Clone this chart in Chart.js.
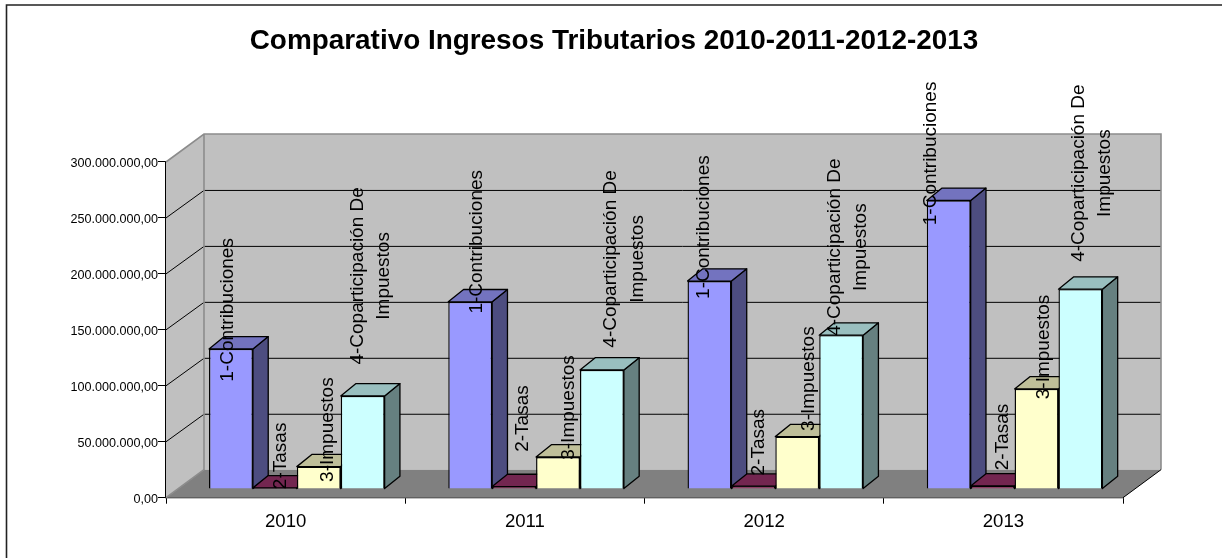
<!DOCTYPE html>
<html><head><meta charset="utf-8">
<style>html,body{margin:0;padding:0;background:#fff;overflow:hidden}canvas{display:block}</style>
<script src="https://cdn.jsdelivr.net/npm/chart.js@4"></script>
</head><body><canvas id="c" width="1222" height="558"></canvas>
<script>
const years = ['2010','2011','2012','2013'];
const seriesNames = ['1-Contribuciones','2-Tasas','3-Impuestos','4-Coparticipación De Impuestos'];
const contribuciones = [125200000,167300000,185800000,257900000];
const tasas = [1000000,2200000,2500000,2700000];
const impuestos = [20000000,28600000,46800000,89400000];
const coparticipacion = [83200000,106400000,137500000,178600000];

const FRONT=['#9999FF','#993366','#FFFFCC','#CCFFFF'];
const TOPF=['#7373BF','#732650','#BFBF99','#99BFBF'];
const SIDE=['#4D4D80','#4D1A33','#808066','#668080'];
const WALL={dx:38,dy:-28};
const BAR_PLANE={dx:11.2,dy:-8.7};
const BAR_DEPTH={dx:15.3,dy:-12.3};
const LABEL_FONT='19px "Liberation Sans", Arial, sans-serif';
const labelLines=[['1-Contribuciones'],['2-Tasas'],['3-Impuestos'],['4-Coparticipación De','Impuestos']];
// label placement relative to bar [dx from bar centre, dy from bar top], per series then year
const labelNudge=[
 [[-3,-39],[6.7,-60],[-6,-54],[-18,-47]],
 [[6,-32],[8.4,-68],[5,-44],[9.7,-49]],
 [[8.7,-37],[11,-49.5],[11,-58],[7,-42]],
 [[8,-120],[22.5,-111],[6.4,-88],[11.5,-116]]
];

function poly(ctx,pts,fill,stroke,lw){
  ctx.beginPath();pts.forEach((p,i)=>i?ctx.lineTo(p[0],p[1]):ctx.moveTo(p[0],p[1]));ctx.closePath();
  if(fill){ctx.fillStyle=fill;ctx.fill();}
  if(stroke){ctx.strokeStyle=stroke;ctx.lineWidth=lw||1;ctx.stroke();}
}
const scene={
  id:'scene',
  afterLayout(chart){chart.titleBlock.left=0;chart.titleBlock.right=1228;},
  beforeDraw(chart){
    const c=chart.ctx;c.save();
    c.strokeStyle='#222';c.lineWidth=1.6;
    c.beginPath();c.moveTo(6.5,560);c.lineTo(6.5,5);c.lineTo(1224,5);c.stroke();
    c.restore();
  },
  beforeDatasetsDraw(chart){
    const c=chart.ctx,a=chart.chartArea,ys=chart.scales.y;
    const L=a.left,R=a.right,T=a.top,B=a.bottom,dx=WALL.dx,dy=WALL.dy;
    c.save();
    poly(c,[[L,T],[L+dx,T+dy],[L+dx,B+dy],[L,B]],'#C0C0C0');
    poly(c,[[L+dx,T+dy],[R+dx,T+dy],[R+dx,B+dy],[L+dx,B+dy]],'#C0C0C0');
    poly(c,[[L,B],[L+dx,B+dy],[R+dx,B+dy],[R,B]],'#808080');
    ys.ticks.forEach(t=>{
      if(t.value===0||t.value===ys.max)return;
      const y=ys.getPixelForValue(t.value);
      c.strokeStyle='#000';c.lineWidth=1;
      c.beginPath();c.moveTo(L,y);c.lineTo(L+dx,y+dy+0.5);c.lineTo(R+dx,y+dy+0.5);c.stroke();
    });
    c.strokeStyle='#8c8c8c';c.lineWidth=1.6;
    c.beginPath();c.moveTo(L,T);c.lineTo(L+dx,T+dy);c.lineTo(R+dx,T+dy);c.lineTo(R+dx,B+dy);
    c.moveTo(L+dx,T+dy);c.lineTo(L+dx,B+dy);c.lineTo(L,B);c.stroke();
    c.strokeStyle='#000';c.lineWidth=1;
    c.beginPath();c.moveTo(R,B);c.lineTo(R+dx,B+dy);c.stroke();
    // depth faces of the bars
    const px=BAR_PLANE.dx,py=BAR_PLANE.dy,qx=BAR_DEPTH.dx,qy=BAR_DEPTH.dy;
    c.lineJoin='round';
    years.forEach((_,i)=>{
      chart.data.datasets.forEach((ds,d)=>{
        const el=chart.getDatasetMeta(d).data[i];
        const x0=el.x-el.width/2+px,x1=el.x+el.width/2+px,yt=el.y+py,yb=el.base+py;
        poly(c,[[x1,yt],[x1+qx,yt+qy],[x1+qx,yb+qy],[x1,yb]],SIDE[d],'#000',1.3);
        poly(c,[[x0,yt],[x0+qx,yt+qy],[x1+qx,yt+qy],[x1,yt]],TOPF[d],'#000',1.3);
      });
    });
    c.restore();
    c.save();c.translate(px,py);
  },
  afterDatasetsDraw(chart){
    const c=chart.ctx;c.restore();
    c.save();
    c.font=LABEL_FONT;c.fillStyle='#000';c.textAlign='center';c.textBaseline='middle';
    chart.data.datasets.forEach((ds,d)=>{
      chart.getDatasetMeta(d).data.forEach((el,i)=>{
        const n=labelNudge[d][i],lines=labelLines[d],sp=26.5;
        const cx=el.x+BAR_PLANE.dx+n[0],cy=el.y+BAR_PLANE.dy+n[1];
        c.save();c.translate(cx,cy);c.rotate(-Math.PI/2);
        lines.forEach((t,k)=>c.fillText(t,0,(k-(lines.length-1)/2)*sp));
        c.restore();
      });
    });
    c.restore();
  }
};
const arrays=[contribuciones,tasas,impuestos,coparticipacion];
new Chart(document.getElementById('c'),{
  type:'bar',
  data:{labels:years,datasets:seriesNames.map((name,d)=>({
    label:name,data:arrays[d],backgroundColor:FRONT[d],borderColor:'#000',borderWidth:1.4,clip:false
  }))},
  plugins:[scene],
  options:{
    responsive:false,animation:false,
    layout:{padding:{right:99,left:0,top:0,bottom:0}},
    datasets:{bar:{barPercentage:1,categoryPercentage:0.734}},
    plugins:{
      legend:{display:false},tooltip:{enabled:false},
      title:{display:true,text:'Comparativo Ingresos Tributarios 2010-2011-2012-2013',color:'#000',
        font:{family:'"Liberation Sans", Arial, sans-serif',size:27.9,weight:'bold',lineHeight:1.2},
        padding:{top:24.5,bottom:104.02}}
    },
    scales:{
      x:{
        afterFit(s){s.height=60.3;},
        grid:{drawOnChartArea:false,drawTicks:true,tickLength:6,color:'#000',offset:true},
        border:{display:true,color:'#000',width:1.2},
        ticks:{color:'#000',maxRotation:0,padding:7,font:{family:'"Liberation Sans", Arial, sans-serif',size:18.6}}
      },
      y:{
        min:0,max:300000000,
        afterFit(s){s.width=166;},
        afterUpdate(s){const o=s.drawLabels;s.drawLabels=function(a){const x=this.ctx;x.save();x.translate(0,1);o.call(this,a);x.restore();};},
        grid:{drawOnChartArea:false,drawTicks:true,tickLength:8,color:'#000'},
        border:{display:true,color:'#000',width:1.2},
        ticks:{stepSize:50000000,color:'#000',padding:0,autoSkip:false,
          font:{family:'"Liberation Sans", Arial, sans-serif',size:12.6},
          callback:v=>v.toLocaleString('de-DE',{minimumFractionDigits:2,maximumFractionDigits:2})}
      }
    }
  }
});
</script></body></html>
